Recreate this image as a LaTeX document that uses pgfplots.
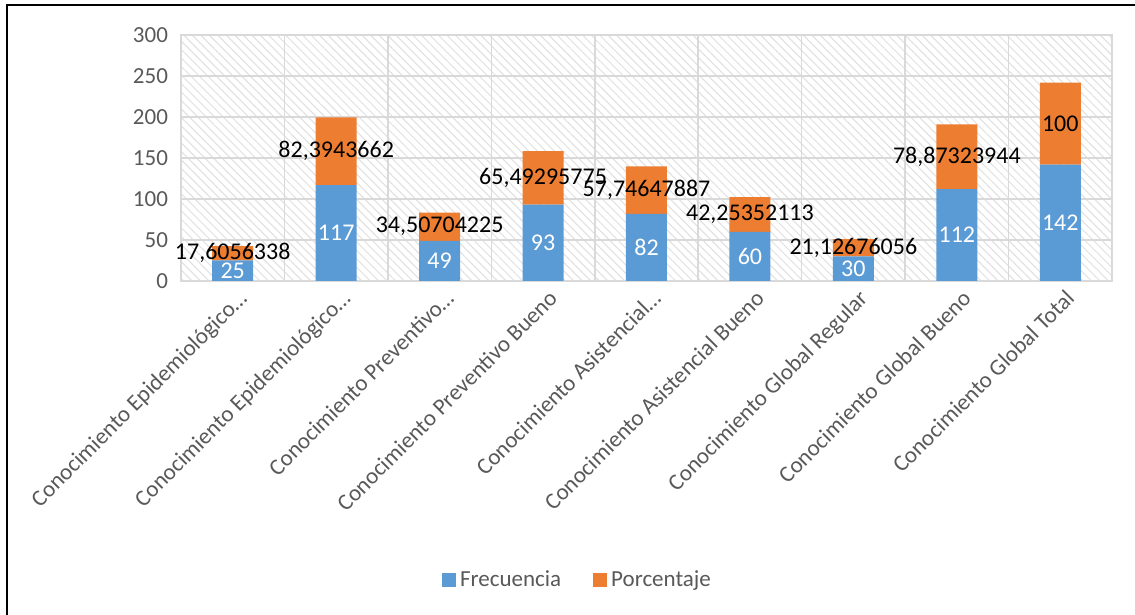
\documentclass[border=0pt]{standalone}
\usepackage{fontspec}
\setmainfont{Carlito}
\usepackage{pgfplots}
\pgfplotsset{compat=1.18}
\usetikzlibrary{patterns.meta}
\definecolor{cblue}{HTML}{5B9BD5}
\definecolor{corange}{HTML}{ED7D31}
\definecolor{ctext}{HTML}{595959}
\definecolor{cgrid}{HTML}{D9D9D9}
\begin{document}
\begin{tikzpicture}
\path[use as bounding box] (0,0) rectangle (567.5pt,307.5pt);
\draw[line width=1pt] (3.5pt,0) -- (3.5pt,305pt) -- (567.5pt,305pt);
\begin{axis}[
  at={(90.5pt,167pt)}, anchor=south west,
  scale only axis, width=465.5pt, height=123pt,
  ybar stacked, bar width=20.5pt,
  xmin=-0.5, xmax=8.5, ymin=0, ymax=300,
  ytick={0,50,...,300},
  xtick={0,...,8},
  xticklabels={Conocimiento Epidemiológico…,Conocimiento Epidemiológico…,Conocimiento Preventivo…,Conocimiento Preventivo Bueno,Conocimiento Asistencial…,Conocimiento Asistencial Bueno,Conocimiento Global Regular,Conocimiento Global Bueno,Conocimiento Global Total},
  minor xtick={-0.5,0.5,...,8.5},
  ymajorgrids, xminorgrids,
  major grid style={cgrid, line width=0.75pt},
  minor grid style={cgrid, line width=0.75pt},
  major tick length=0pt, minor tick length=0pt,
  axis line style={cgrid, line width=0.75pt},
  axis background/.style={pattern={Lines[angle=-45,distance=3pt,line width=0.5pt]}, pattern color=gray!25},
  tick label style={font=\fontsize{11.5}{13}\selectfont, text=ctext},
  /pgf/number format/assume math mode=true,
  x tick label style={rotate=45, anchor=north east, inner sep=1pt, yshift=-3pt},
  y tick label style={xshift=-3pt},
  legend style={draw=none, at={(0.427,-1.215)}, anchor=center, legend columns=2,
    font=\fontsize{11.5}{13}\selectfont, text=ctext,
    /tikz/every even column/.append style={column sep=14pt}},
  legend image code/.code={\fill[#1] (0pt,-3.5pt) rectangle (7pt,3.5pt);},
]
\addplot[fill=cblue, draw=none] coordinates {(0,25) (1,117) (2,49) (3,93) (4,82) (5,60) (6,30) (7,112) (8,142)};
\addlegendentry{Frecuencia}
\addplot[fill=corange, draw=none] coordinates {(0,17.6056338) (1,82.3943662) (2,34.50704225) (3,65.49295775) (4,57.74647887) (5,42.25352113) (6,21.12676056) (7,78.87323944) (8,100)};
\addlegendentry{Porcentaje}
\end{axis}
\begin{axis}[
  at={(90.5pt,167pt)}, anchor=south west,
  scale only axis, width=465.5pt, height=123pt,
  xmin=-0.5, xmax=8.5, ymin=0, ymax=300,
  hide axis, clip=false,
]
\addplot[draw=none, mark=none, nodes near coords, point meta=explicit symbolic,
  every node near coord/.style={anchor=center, text=white, font=\fontsize{12}{14}\selectfont}]
  coordinates {(0,12.5)[25] (1,58.5)[117] (2,24.5)[49] (3,46.5)[93] (4,41)[82] (5,30)[60] (6,15)[30] (7,56)[112] (8,71)[142]};
\addplot[draw=none, mark=none, nodes near coords, point meta=explicit symbolic,
  every node near coord/.style={anchor=center, text=black, font=\fontsize{12}{14}\selectfont}]
  coordinates {(0,33.80)[17,6056338] (1,158.20)[82,3943662] (2,66.25)[34,50704225] (3,125.75)[65,49295775] (4,110.87)[57,74647887] (5,81.13)[42,25352113] (6,40.56)[21,12676056] (7,151.44)[78,87323944] (8,192)[100]};
\end{axis}
\end{tikzpicture}
\end{document}
